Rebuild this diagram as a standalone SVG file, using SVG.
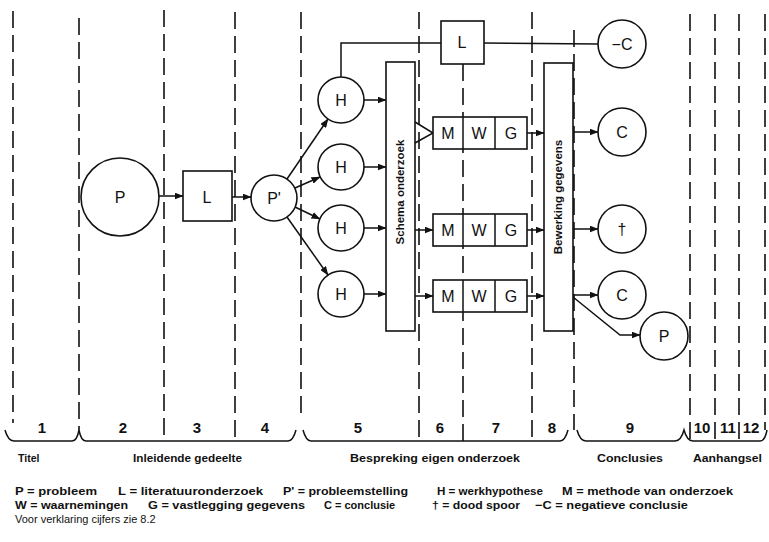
<svg xmlns="http://www.w3.org/2000/svg" width="769" height="542" viewBox="0 0 769 542">
<defs>
<style>
.dash{stroke:#111;stroke-width:1.6;stroke-dasharray:17 7;fill:none}
.ln{stroke:#111;stroke-width:1.5;fill:none}
.shape{stroke:#111;stroke-width:1.6;fill:#fff}
.lbl{font-family:"Liberation Sans",Arial,sans-serif;font-size:16px;fill:#111;text-anchor:middle}
.rot{font-family:"Liberation Sans",Arial,sans-serif;font-size:11.5px;font-weight:bold;fill:#111;text-anchor:middle}
.num{font-family:"Liberation Sans",Arial,sans-serif;font-size:15px;font-weight:bold;fill:#111;text-anchor:middle}
.grp{font-family:"Liberation Sans",Arial,sans-serif;font-size:10.5px;font-weight:bold;fill:#111}
.leg{font-family:"Liberation Sans",Arial,sans-serif;font-size:11px;font-weight:bold;fill:#111}
.leg3{font-family:"Liberation Sans",Arial,sans-serif;font-size:11px;fill:#111}
</style>
<marker id="ah" markerWidth="9" markerHeight="7" refX="8.5" refY="3.5" orient="auto" markerUnits="userSpaceOnUse">
<path d="M0,0 L9,3.5 L0,7 z" fill="#111"/>
</marker>
</defs>
<rect width="769" height="542" fill="#fff"/>

<g id="section-lines">
<line class="dash" x1="13" y1="11" x2="13" y2="423"/>
<line class="dash" x1="79" y1="18" x2="79" y2="430"/>
<line class="dash" x1="164" y1="10" x2="164" y2="441"/>
<line class="dash" x1="235" y1="12" x2="235" y2="441"/>
<line class="dash" x1="301" y1="12" x2="301" y2="418"/>
<line class="dash" x1="419" y1="12" x2="419" y2="441"/>
<line class="dash" x1="463" y1="64" x2="463" y2="441"/>
<line class="dash" x1="532" y1="12" x2="532" y2="441"/>
<line class="dash" x1="574" y1="30" x2="574" y2="430"/>
<line class="dash" x1="690" y1="14" x2="690" y2="441"/>
<line class="dash" x1="715" y1="14" x2="715" y2="441"/>
<line class="dash" x1="739" y1="14" x2="739" y2="441"/>
<line class="dash" x1="765" y1="14" x2="765" y2="430"/>
</g>

<g id="braces">
<path class="ln" d="M5,430 Q8,441 14,441 L72,441 Q77,441 79,430 Q81,441 86,441 L288,441 Q293,441 296,430"/>
<path class="ln" d="M303,430 Q306,441 311,441 L560,441 Q565,441 568,430"/>
<path class="ln" d="M577,430 Q580,441 586,441 L675,441 Q681,441 684,430 Q687,441 693,441 L760,441 Q765,441 767,430"/>
</g>

<g id="connectors">
<line class="ln" x1="159" y1="196" x2="183" y2="196" marker-end="url(#ah)"/>
<line class="ln" x1="232" y1="197" x2="251" y2="197" marker-end="url(#ah)"/>
<line class="ln" x1="287" y1="179" x2="328" y2="119" marker-end="url(#ah)"/>
<line class="ln" x1="295" y1="188" x2="320" y2="177" marker-end="url(#ah)"/>
<line class="ln" x1="295" y1="207" x2="320" y2="219" marker-end="url(#ah)"/>
<line class="ln" x1="287" y1="217" x2="328" y2="275" marker-end="url(#ah)"/>
<line class="ln" x1="364" y1="100" x2="386" y2="100" marker-end="url(#ah)"/>
<line class="ln" x1="364" y1="167" x2="386" y2="167" marker-end="url(#ah)"/>
<line class="ln" x1="364" y1="228" x2="386" y2="228" marker-end="url(#ah)"/>
<line class="ln" x1="364" y1="294" x2="386" y2="294" marker-end="url(#ah)"/>
<polyline class="ln" points="341,77 341,43 441,43"/>
<line class="ln" x1="484" y1="43" x2="599" y2="44"/>
<polyline class="ln" points="415,122 433,133 415,143"/>
<line class="ln" x1="415" y1="230" x2="433" y2="230" marker-end="url(#ah)"/>
<line class="ln" x1="415" y1="296" x2="433" y2="296" marker-end="url(#ah)"/>
<line class="ln" x1="527" y1="133" x2="544" y2="133" marker-end="url(#ah)"/>
<line class="ln" x1="527" y1="230" x2="544" y2="230" marker-end="url(#ah)"/>
<line class="ln" x1="527" y1="296" x2="544" y2="296" marker-end="url(#ah)"/>
<line class="ln" x1="573" y1="132" x2="598" y2="132" marker-end="url(#ah)"/>
<line class="ln" x1="573" y1="229" x2="598" y2="229" marker-end="url(#ah)"/>
<line class="ln" x1="573" y1="295" x2="598" y2="295" marker-end="url(#ah)"/>
<polyline class="ln" points="573,297 620,335 640,335" marker-end="url(#ah)"/>
</g>

<g id="node-P"><circle class="shape" cx="120" cy="197" r="39"/><text class="lbl" x="120" y="203">P</text></g>
<g id="node-L1"><rect class="shape" x="183" y="171" width="49" height="50"/><text class="lbl" x="207" y="203">L</text></g>
<g id="node-P2"><circle class="shape" cx="274" cy="198" r="23"/><text class="lbl" x="274" y="204">P'</text></g>
<g id="node-H1"><circle class="shape" cx="341" cy="100" r="23"/><text class="lbl" x="341" y="106">H</text></g>
<g id="node-H2"><circle class="shape" cx="341" cy="167" r="23"/><text class="lbl" x="341" y="173">H</text></g>
<g id="node-H3"><circle class="shape" cx="341" cy="228" r="23"/><text class="lbl" x="341" y="234">H</text></g>
<g id="node-H4"><circle class="shape" cx="341" cy="294" r="23"/><text class="lbl" x="341" y="300">H</text></g>
<g id="node-schema"><rect class="shape" x="386" y="62" width="29" height="269"/><text class="rot" transform="translate(404,192) rotate(-90)">Schema onderzoek</text></g>
<g id="node-L2"><rect class="shape" x="441" y="21" width="43" height="43"/><text class="lbl" x="462" y="48">L</text></g>
<g id="node-negC"><circle class="shape" cx="622" cy="44" r="24"/><text class="lbl" x="622" y="50">−C</text></g>

<g id="node-MWG1"><rect class="shape" x="433" y="117" width="94" height="32"/><line class="ln" x1="463" y1="117" x2="463" y2="149"/><line class="ln" x1="495" y1="117" x2="495" y2="149"/><text class="lbl" x="448" y="139">M</text><text class="lbl" x="479" y="139">W</text><text class="lbl" x="511" y="139">G</text></g>
<g id="node-MWG2"><rect class="shape" x="433" y="214" width="94" height="32"/><line class="ln" x1="463" y1="214" x2="463" y2="246"/><line class="ln" x1="495" y1="214" x2="495" y2="246"/><text class="lbl" x="448" y="236">M</text><text class="lbl" x="479" y="236">W</text><text class="lbl" x="511" y="236">G</text></g>
<g id="node-MWG3"><rect class="shape" x="433" y="280" width="94" height="32"/><line class="ln" x1="463" y1="280" x2="463" y2="312"/><line class="ln" x1="495" y1="280" x2="495" y2="312"/><text class="lbl" x="448" y="302">M</text><text class="lbl" x="479" y="302">W</text><text class="lbl" x="511" y="302">G</text></g>

<g id="node-bewerking"><rect class="shape" x="544" y="63" width="29" height="268"/><text class="rot" transform="translate(562,197) rotate(-90)">Bewerking gegevens</text></g>
<g id="node-C1"><circle class="shape" cx="622" cy="132" r="24"/><text class="lbl" x="622" y="138">C</text></g>
<g id="node-dagger"><circle class="shape" cx="622" cy="229" r="24"/><text class="lbl" x="622" y="235">†</text></g>
<g id="node-C2"><circle class="shape" cx="622" cy="295" r="24"/><text class="lbl" x="622" y="301">C</text></g>
<g id="node-P3"><circle class="shape" cx="664" cy="336" r="24"/><text class="lbl" x="664" y="342">P</text></g>

<g id="section-numbers">
<text class="num" x="42" y="433">1</text>
<text class="num" x="123" y="433">2</text>
<text class="num" x="197" y="433">3</text>
<text class="num" x="265" y="433">4</text>
<text class="num" x="358" y="433">5</text>
<text class="num" x="440" y="433">6</text>
<text class="num" x="496" y="433">7</text>
<text class="num" x="552" y="433">8</text>
<text class="num" x="630" y="433">9</text>
<text class="num" x="702" y="433">10</text>
<text class="num" x="728" y="433">11</text>
<text class="num" x="751" y="433">12</text>
</g>

<g id="group-labels">
<text class="grp" x="18" y="462">Titel</text>
<text class="grp" x="133" y="462" textLength="109" lengthAdjust="spacingAndGlyphs">Inleidende gedeelte</text>
<text class="grp" x="350" y="462" textLength="170" lengthAdjust="spacingAndGlyphs">Bespreking eigen onderzoek</text>
<text class="grp" x="597" y="462" textLength="66" lengthAdjust="spacingAndGlyphs">Conclusies</text>
<text class="grp" x="693" y="462" textLength="69" lengthAdjust="spacingAndGlyphs">Aanhangsel</text>
</g>

<g id="legend">
<text class="leg" x="15" y="495" textLength="82" lengthAdjust="spacingAndGlyphs">P = probleem</text>
<text class="leg" x="118" y="495" textLength="145" lengthAdjust="spacingAndGlyphs">L = literatuuronderzoek</text>
<text class="leg" x="283" y="495" textLength="125" lengthAdjust="spacingAndGlyphs">P' = probleemstelling</text>
<text class="leg" x="437" y="495" textLength="106" lengthAdjust="spacingAndGlyphs">H = werkhypothese</text>
<text class="leg" x="562" y="495" textLength="171" lengthAdjust="spacingAndGlyphs">M = methode van onderzoek</text>
<text class="leg" x="15" y="509" textLength="113" lengthAdjust="spacingAndGlyphs">W = waarnemingen</text>
<text class="leg" x="148" y="509" textLength="157" lengthAdjust="spacingAndGlyphs">G = vastlegging gegevens</text>
<text class="leg" x="324" y="509">C = conclusie</text>
<text class="leg" x="432" y="509" textLength="88" lengthAdjust="spacingAndGlyphs">† = dood spoor</text>
<text class="leg" x="535" y="509" textLength="153" lengthAdjust="spacingAndGlyphs">−C = negatieve conclusie</text>
<text class="leg3" x="15" y="523">Voor verklaring cijfers zie 8.2</text>
</g>
</svg>
